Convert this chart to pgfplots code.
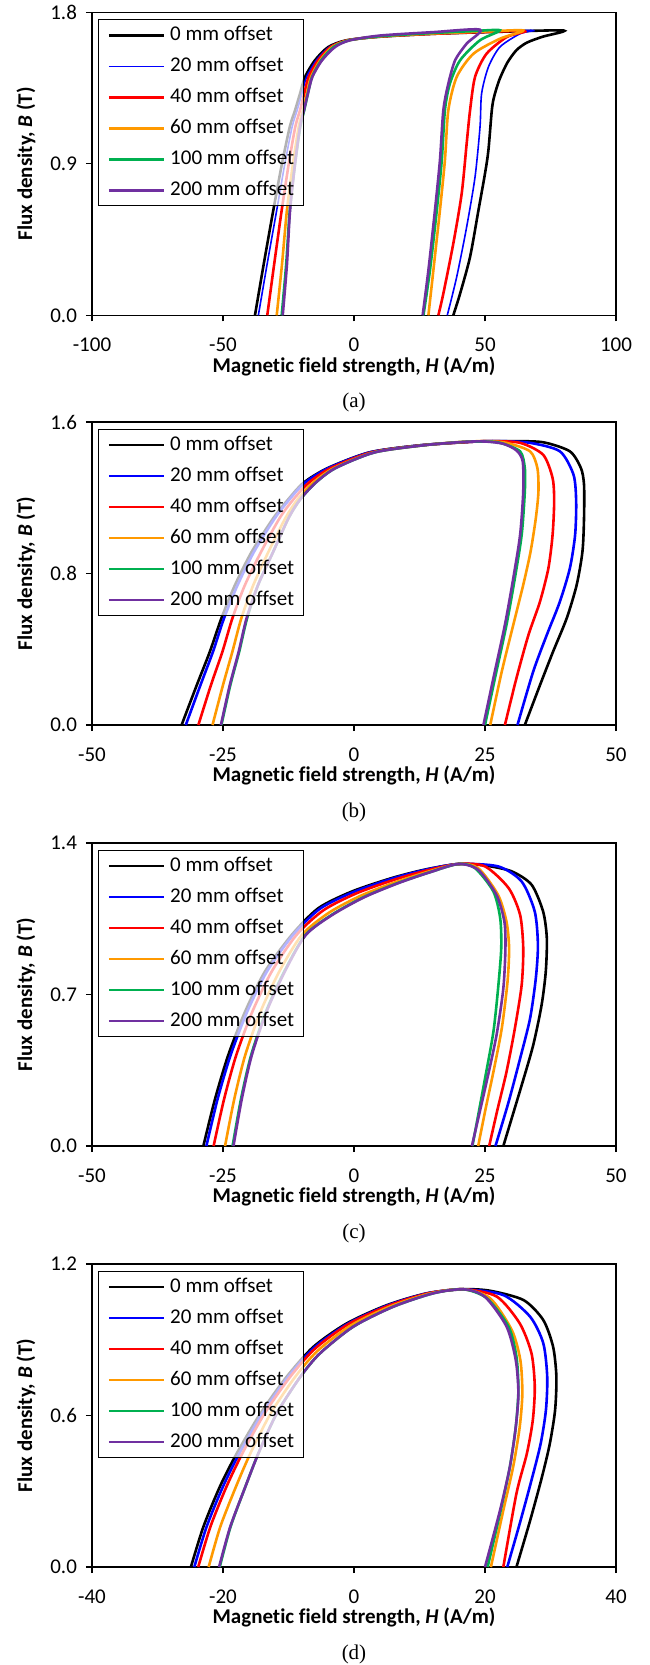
\documentclass[border=0pt]{standalone}
\usepackage{pgfplots}
\pgfplotsset{compat=1.18}
\usepackage{fontspec}
\setmainfont{Carlito}[Ligatures={NoCommon}]
\newfontfamily\capfont{Liberation Serif}

\definecolor{cblue}{RGB}{0,0,255}
\definecolor{cred}{RGB}{255,0,0}
\definecolor{corange}{RGB}{255,153,0}
\definecolor{cgreen}{RGB}{0,176,80}
\definecolor{cpurple}{RGB}{112,48,160}

\newcommand{\lblfont}{\fontsize{10.5}{12.6}\selectfont}

\pgfplotsset{
  bh/.style={
    width=262pt, height=151.5pt, scale only axis,
    anchor=north west, clip=false,
    axis line style={black, line width=0.6pt},
    tick style={black, line width=0.6pt},
    tick align=outside, major tick length=3pt,
    xtick pos=left, ytick pos=left,
    xticklabel style={yshift=-5pt},
    yticklabel style={xshift=-1pt},
    ymin=0,
    font=\lblfont,
    every axis x label/.style={at={(axis description cs:0.5,-0.168)}, anchor=center, font=\lblfont\bfseries},
    every axis y label/.style={at={(axis description cs:-0.126,0.5)}, anchor=center, rotate=90, font=\lblfont\bfseries},
    xlabel={Magnetic field strength, \textit{H} (A/m)},
    ylabel={Flux density, \textit{B} (T)},
    no markers,
    every axis plot/.append style={smooth, tension=0.45, line width=1.3pt},
    legend cell align=left,
    legend style={at={(axis description cs:0.0115,0.977)}, anchor=north west,
      draw=black, line width=0.6pt, fill=white, fill opacity=0.7, draw opacity=1, text opacity=1,
      inner xsep=4.5pt, inner ysep=2.75pt, row sep=5.5pt,
      nodes={inner sep=0pt, text height=7.5pt, text depth=2.5pt},
      /tikz/every odd column/.append style={column sep=2.5pt},
      font=\lblfont},
    legend image code/.code={\draw[#1] (0pt,0pt) -- (27.5pt,0pt);},
    legend entries={0 mm offset, 20 mm offset, 40 mm offset, 60 mm offset, 100 mm offset, 200 mm offset},
  }
}

\begin{document}
\begin{tikzpicture}
\path[use as bounding box] (-46pt,6.15pt) rectangle (278.5pt,-826.35pt);

% (a)
\begin{axis}[bh, at={(0pt,0pt)},
  xmin=-100, xmax=100, ymax=1.8,
  xtick={-100,-50,0,50,100}, xticklabels={-100,-50,0,50,100},
  ytick={0,0.9,1.8}, yticklabels={0.0,0.9,1.8}]
\addplot[black] coordinates {(-37.8,0) (-34.5,0.3) (-30.8,0.624) (-27.5,0.9) (-24.5,1.12) (-22.5,1.218) (-20.6,1.317) (-18.7,1.416) (-14.9,1.515) (-9.8,1.594) (-2.8,1.634) (10,1.655) (30,1.672) (55,1.684) (80,1.692) (72,1.655) (66,1.62) (62,1.575) (58.5,1.5) (55.5,1.4) (53.5,1.3) (52.6,1.218) (51.3,0.98) (50,0.842) (47.5,0.624) (44.3,0.347) (40.5,0.129) (37.9,0)};
\addplot[cblue, line width=0.8pt] coordinates {(-36.5,0) (-33.2,0.3) (-29.5,0.624) (-26.4,0.9) (-23.6,1.12) (-21.7,1.218) (-19.9,1.317) (-18.1,1.416) (-14.4,1.515) (-9.4,1.594) (-2.6,1.634) (10,1.656) (30,1.673) (50,1.684) (68.4,1.693) (63.4,1.673) (55.7,1.594) (51.3,1.475) (48.7,1.317) (48.1,1.119) (46.2,0.822) (43,0.525) (39.2,0.228) (35.6,0)};
\addplot[cred] coordinates {(-33.1,0) (-30.5,0.3) (-27.6,0.624) (-24.9,0.9) (-22.4,1.12) (-20.6,1.218) (-19.0,1.317) (-17.3,1.416) (-13.7,1.515) (-8.9,1.594) (-2.3,1.634) (10,1.656) (30,1.672) (50,1.683) (65.3,1.688) (58.3,1.653) (50.6,1.554) (46.2,1.416) (44.3,1.218) (43,1.02) (41.1,0.723) (37.9,0.426) (34.1,0.129) (32.2,0)};
\addplot[corange] coordinates {(-29.5,0) (-27.5,0.3) (-25.6,0.624) (-23.3,0.9) (-21.1,1.12) (-19.5,1.218) (-18.0,1.317) (-16.4,1.416) (-12.9,1.515) (-8.3,1.594) (-2.0,1.634) (10,1.657) (30,1.674) (50,1.686) (64.6,1.692) (55.7,1.643) (45.6,1.554) (39.2,1.416) (36,1.218) (34.7,0.921) (32.8,0.624) (30.3,0.268) (28.4,0)};
\addplot[cgreen] coordinates {(-27.6,0) (-25.9,0.3) (-24.5,0.624) (-22.5,0.9) (-20.5,1.12) (-19.0,1.218) (-17.6,1.317) (-16.0,1.416) (-12.5,1.515) (-7.8,1.594) (-1.7,1.634) (10,1.658) (30,1.677) (45,1.688) (55.7,1.693) (48.1,1.634) (40.5,1.515) (36.6,1.376) (34.7,1.218) (33.5,0.921) (31.6,0.624) (29,0.268) (26.5,0)};
\addplot[cpurple] coordinates {(-27.2,0) (-25.6,0.3) (-24.4,0.624) (-22.5,0.9) (-20.6,1.12) (-19.1,1.218) (-17.6,1.317) (-15.9,1.416) (-12.2,1.515) (-7.2,1.594) (-1.5,1.634) (10,1.662) (30,1.682) (48.1,1.697) (43,1.614) (38.6,1.515) (36,1.376) (34.1,1.218) (32.8,0.921) (30.9,0.624) (28.4,0.268) (26.2,0)};
\node[font=\capfont\lblfont] at (axis description cs:0.5,-0.287) {(a)};
\end{axis}

% (b)
\begin{axis}[bh, at={(0pt,-204.85pt)},
  xmin=-50, xmax=50, ymax=1.6,
  xtick={-50,-25,0,25,50}, xticklabels={-50,-25,0,25,50},
  ytick={0,0.8,1.6}, yticklabels={0.0,0.8,1.6}]
\addplot[black] coordinates {(-32.9,0) (-30.0,0.211) (-27.5,0.388) (-25.3,0.564) (-22.7,0.74) (-19.5,0.916) (-15.4,1.092) (-12.6,1.19) (-9.6,1.28) (-5.0,1.357) (3.0,1.44) (13.0,1.478) (23.4,1.497) (30,1.499) (36.1,1.493) (41.2,1.445) (43.3,1.357) (43.9,1.269) (43.9,1.092) (43.6,0.916) (42.5,0.74) (40.6,0.564) (38.0,0.388) (35.5,0.211) (32.6,0)};
\addplot[cblue] coordinates {(-32.1,0) (-29.3,0.211) (-26.9,0.388) (-24.8,0.564) (-22.2,0.74) (-19.05,0.916) (-15.1,1.092) (-12.35,1.19) (-9.35,1.28) (-4.85,1.357) (3.1,1.44) (13.05,1.478) (23.4,1.497) (28,1.499) (33.6,1.49) (39.3,1.445) (41.9,1.321) (42.4,1.18) (42.2,1.004) (41.2,0.828) (39.3,0.652) (36.8,0.476) (34.2,0.282) (31.2,0)};
\addplot[cred] coordinates {(-29.7,0) (-27.3,0.211) (-25.1,0.388) (-23.2,0.564) (-20.8,0.74) (-17.7,0.916) (-14.2,1.092) (-11.6,1.19) (-8.6,1.28) (-4.4,1.357) (3.4,1.44) (13.3,1.478) (23.4,1.497) (26,1.499) (31.7,1.49) (36.1,1.427) (37.9,1.304) (38.2,1.18) (37.9,1.004) (37.1,0.828) (35.5,0.652) (33.3,0.476) (31.0,0.247) (28.8,0)};
\addplot[corange] coordinates {(-27.0,0) (-25.0,0.211) (-23.2,0.388) (-21.5,0.564) (-19.2,0.74) (-16.3,0.916) (-13.1,1.092) (-10.8,1.19) (-7.8,1.28) (-3.8,1.357) (3.8,1.44) (13.5,1.478) (21,1.496) (25.5,1.498) (29.1,1.49) (33.6,1.445) (35.0,1.357) (35.2,1.233) (34.7,1.092) (33.7,0.916) (32.3,0.74) (30.4,0.529) (28.2,0.282) (26.0,0)};
\addplot[cgreen] coordinates {(-25.3,0) (-23.6,0.211) (-21.9,0.388) (-20.4,0.564) (-18.3,0.74) (-15.4,0.916) (-12.5,1.092) (-10.3,1.19) (-7.3,1.28) (-3.5,1.357) (4.0,1.44) (13.6,1.478) (21,1.495) (25,1.497) (27.9,1.49) (31.7,1.445) (32.6,1.357) (32.6,1.233) (32.0,1.004) (30.7,0.775) (29.1,0.529) (26.9,0.247) (25.0,0)};
\addplot[cpurple] coordinates {(-25.4,0) (-23.7,0.211) (-22.0,0.388) (-20.5,0.564) (-18.3,0.74) (-15.4,0.916) (-12.5,1.092) (-10.3,1.19) (-7.3,1.28) (-3.5,1.357) (4.0,1.44) (13.6,1.478) (21,1.495) (25,1.497) (28.5,1.485) (31.0,1.45) (32.2,1.392) (32.3,1.233) (31.7,1.004) (30.4,0.775) (28.8,0.529) (26.6,0.247) (24.7,0)};
\node[font=\capfont\lblfont] at (axis description cs:0.5,-0.287) {(b)};
\end{axis}

% (c)
\begin{axis}[bh, at={(0pt,-415.35pt)},
  xmin=-50, xmax=50, ymax=1.4,
  xtick={-50,-25,0,25,50}, xticklabels={-50,-25,0,25,50},
  ytick={0,0.7,1.4}, yticklabels={0.0,0.7,1.4}]
\addplot[black] coordinates {(-28.75,0) (-26.5,0.219) (-24.0,0.42) (-20.8,0.62) (-17.0,0.806) (-11.9,0.975) (-6.8,1.099) (-0.4,1.176) (7.2,1.238) (13.5,1.277) (19.9,1.303) (25.0,1.296) (30.1,1.269) (33.9,1.207) (36.1,1.083) (36.8,0.96) (36.6,0.806) (35.8,0.651) (34.2,0.466) (32.0,0.281) (28.5,0)};
\addplot[cblue] coordinates {(-28.17,0) (-26.01,0.219) (-23.55,0.42) (-20.39,0.62) (-16.62,0.806) (-11.63,0.975) (-6.52,1.096) (-0.16,1.173) (7.33,1.236) (13.6,1.276) (19.9,1.303) (27.5,1.292) (32.0,1.222) (34.5,1.083) (35.1,0.929) (34.7,0.775) (33.6,0.589) (31.7,0.404) (29.5,0.203) (27.0,0)};
\addplot[cred] coordinates {(-26.79,0) (-24.77,0.219) (-22.47,0.42) (-19.41,0.62) (-15.71,0.806) (-10.98,0.975) (-5.85,1.089) (0.42,1.167) (7.64,1.23) (13.84,1.273) (19.9,1.303) (25.0,1.292) (29.5,1.192) (31.7,1.068) (32.3,0.914) (32.0,0.744) (30.7,0.543) (29.1,0.342) (27.4,0.17) (25.8,0)};
\addplot[corange] coordinates {(-24.61,0) (-22.83,0.219) (-20.76,0.42) (-17.85,0.62) (-14.26,0.806) (-9.96,0.975) (-4.78,1.078) (1.33,1.157) (8.14,1.221) (14.22,1.268) (19.9,1.303) (23.7,1.284) (27.5,1.16) (29.1,1.037) (29.6,0.914) (29.3,0.759) (28.2,0.543) (26.6,0.342) (25.1,0.17) (23.7,0)};
\addplot[cgreen] coordinates {(-23.17,0) (-21.55,0.219) (-19.63,0.42) (-16.82,0.62) (-13.31,0.806) (-9.28,0.975) (-4.08,1.071) (1.93,1.151) (8.46,1.216) (14.47,1.265) (19.9,1.303) (23.1,1.284) (26.6,1.176) (27.9,1.053) (28.1,0.914) (27.5,0.728) (26.6,0.527) (25.0,0.311) (22.6,0)};
\addplot[cpurple] coordinates {(-23.0,0) (-21.4,0.219) (-19.5,0.42) (-16.7,0.62) (-13.2,0.806) (-9.2,0.975) (-4.0,1.07) (2.0,1.15) (8.5,1.215) (14.5,1.265) (19.9,1.303) (23.7,1.276) (27.2,1.16) (28.7,1.037) (28.9,0.914) (28.5,0.728) (27.2,0.512) (25.3,0.296) (22.5,0)};
\node[font=\capfont\lblfont] at (axis description cs:0.5,-0.287) {(c)};
\end{axis}

% (d)
\begin{axis}[bh, at={(0pt,-625.85pt)},
  xmin=-40, xmax=40, ymax=1.2,
  xtick={-40,-20,0,20,40}, xticklabels={-40,-20,0,20,40},
  ytick={0,0.6,1.2}, yticklabels={0.0,0.6,1.2}]
\addplot[black] coordinates {(-24.9,0) (-23.0,0.159) (-20.5,0.317) (-17.9,0.45) (-14.3,0.608) (-10.3,0.753) (-6.2,0.872) (-1.1,0.965) (5.0,1.037) (11.1,1.084) (16.7,1.1) (20.8,1.094) (25.9,1.057) (28.9,0.978) (30.4,0.872) (30.9,0.753) (30.7,0.621) (29.9,0.489) (28.7,0.357) (26.9,0.185) (24.8,0)};
\addplot[cblue] coordinates {(-24.38,0) (-22.51,0.159) (-20.03,0.317) (-17.5,0.45) (-14.0,0.608) (-10.05,0.753) (-6.08,0.869) (-0.98,0.963) (5.12,1.036) (11.22,1.084) (16.7,1.1) (22.8,1.077) (26.9,0.991) (28.9,0.886) (29.5,0.753) (29.3,0.621) (28.5,0.489) (27.1,0.344) (25.3,0.172) (23.4,0)};
\addplot[cred] coordinates {(-23.78,0) (-21.93,0.159) (-19.49,0.317) (-17.04,0.45) (-13.65,0.608) (-9.75,0.753) (-5.94,0.865) (-0.84,0.962) (5.26,1.035) (11.36,1.084) (16.7,1.1) (21.8,1.071) (25.3,0.965) (27.1,0.846) (27.6,0.714) (27.3,0.582) (26.4,0.45) (24.8,0.291) (22.8,0)};
\addplot[corange] coordinates {(-22.19,0) (-20.42,0.159) (-18.04,0.317) (-15.82,0.45) (-12.73,0.608) (-8.98,0.753) (-5.57,0.856) (-0.47,0.957) (5.63,1.033) (11.73,1.084) (16.7,1.1) (20.8,1.064) (24.1,0.938) (25.4,0.819) (25.7,0.687) (25.3,0.555) (24.3,0.397) (22.8,0.225) (20.9,0)};
\addplot[cgreen] coordinates {(-20.5,0) (-18.85,0.159) (-16.6,0.317) (-14.6,0.45) (-11.8,0.608) (-8.2,0.753) (-5.2,0.846) (-0.1,0.952) (6.0,1.031) (12.1,1.084) (16.7,1.1) (20.3,1.064) (23.6,0.952) (24.8,0.833) (25.1,0.7) (24.7,0.555) (23.8,0.397) (22.4,0.225) (20.4,0)};
\addplot[cpurple] coordinates {(-20.6,0) (-18.9,0.159) (-16.6,0.317) (-14.6,0.45) (-11.8,0.608) (-8.2,0.753) (-5.2,0.846) (-0.1,0.952) (6.0,1.031) (12.1,1.084) (16.7,1.1) (20.0,1.07) (23.3,0.952) (24.7,0.819) (25.1,0.687) (24.7,0.555) (23.8,0.397) (22.3,0.225) (20.0,0)};
\node[font=\capfont\lblfont] at (axis description cs:0.5,-0.287) {(d)};
\end{axis}
\end{tikzpicture}
\end{document}
